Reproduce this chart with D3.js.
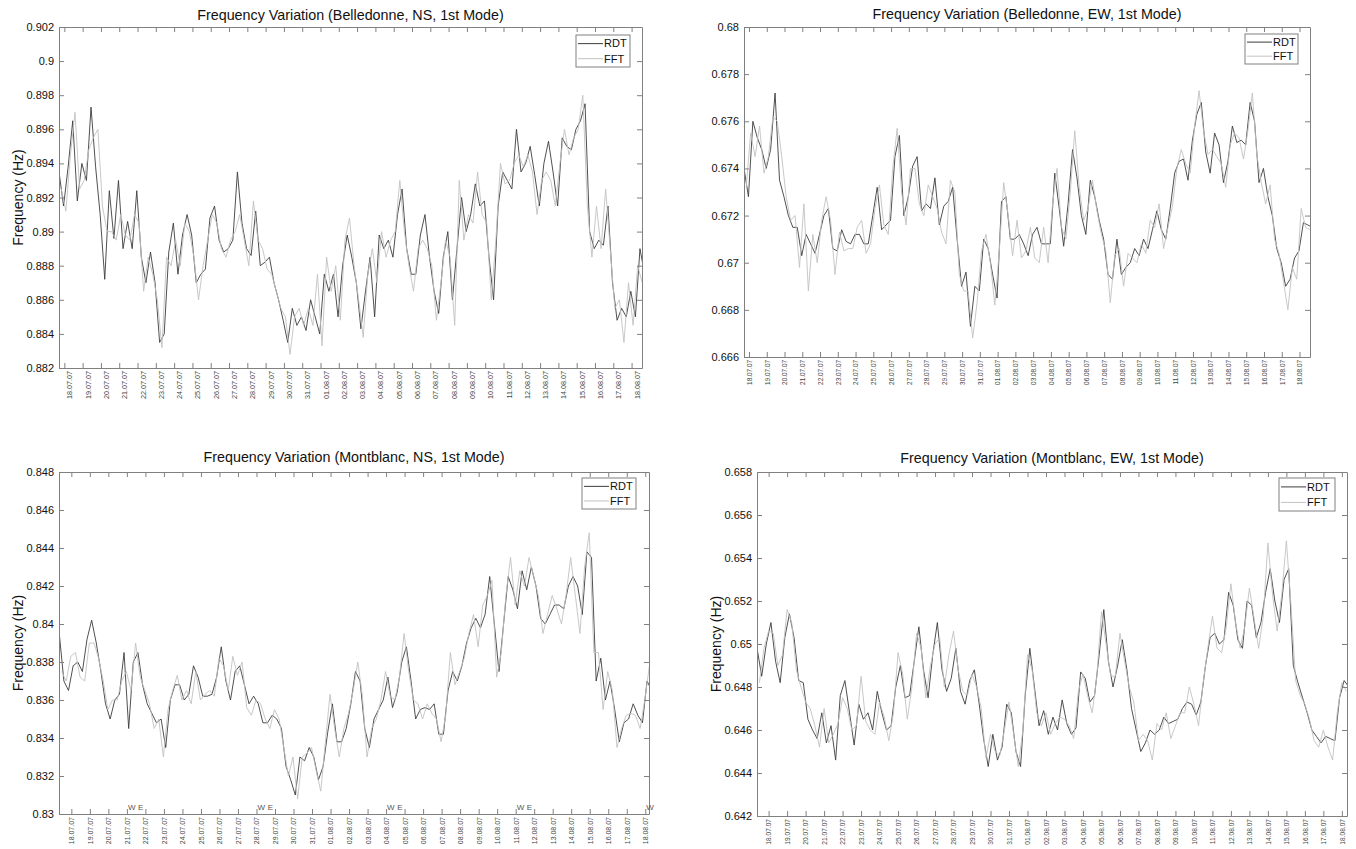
<!DOCTYPE html>
<html>
<head>
<meta charset="utf-8">
<script src="https://cdn.jsdelivr.net/npm/d3@7/dist/d3.min.js"></script>
<style>
  body { margin: 0; background: #fff; }
  svg { display: block; font-family: "Liberation Sans", Arial, sans-serif; }
</style>
</head>
<body>
<svg id="chart" width="1356" height="849"></svg>
<script>
// first-mode frequency in mHz, one sample every 6 h (FFT grid shifted by 3 h)
const belNsRdt = [
  893.5, 891.5, 893.8, 896.5, 891.8, 894.0, 893.0, 897.3,
  893.8, 891.0, 887.2, 892.4, 889.6, 893.0, 889.0, 890.6,
  889.0, 892.4, 888.5, 887.0, 888.8, 887.0, 883.5, 884.0,
  888.8, 890.5, 887.5, 889.8, 891.0, 889.8, 887.0, 887.5,
  887.8, 890.8, 891.5, 889.5, 888.8, 889.0, 889.5, 893.5,
  890.5, 889.0, 888.6, 891.2, 888.0, 888.2, 888.5, 887.0,
  886.0, 884.8, 883.5, 885.5, 884.5, 885.0, 884.2, 886.0,
  885.0, 884.0, 887.5, 886.5, 887.5, 885.0, 888.0, 889.8,
  888.5, 887.0, 884.3, 886.5, 888.5, 885.0, 889.8, 889.0,
  889.5, 888.5, 891.0, 892.5, 889.0, 887.5, 887.5, 889.8,
  891.0, 888.5, 886.5, 885.2, 888.5, 890.0, 886.0, 889.0,
  892.0, 890.0, 891.0, 892.8, 891.5, 891.8, 888.5, 886.0,
  891.5, 893.5, 893.0, 892.5, 896.0, 893.5, 894.0, 895.0,
  893.3, 891.5, 894.0, 895.3, 893.5, 891.5, 895.5, 895.0,
  894.8, 896.0, 896.5, 897.5, 890.0, 889.0, 889.5, 889.2,
  891.5, 887.0, 884.8, 885.5, 885.0, 886.5, 885.0, 889.0,
  887.5
];
const belNsFft = [
  892.5, 891.2, 894.5, 897.0, 892.5, 893.0, 894.8, 895.5,
  896.0, 891.5, 890.0, 890.0, 889.5, 891.0, 889.8, 889.5,
  891.0, 890.5, 886.5, 888.5, 887.5, 886.0, 883.2, 888.5,
  888.0, 889.5, 888.0, 890.5, 890.0, 888.5, 886.0, 888.0,
  889.5, 891.0, 890.5, 889.0, 888.5, 889.5, 890.0, 891.0,
  889.5, 888.0, 891.8, 889.5, 889.0, 887.8, 887.5, 886.5,
  885.5, 885.0, 882.8, 885.0, 885.5, 884.5, 885.5, 884.5,
  887.5, 883.3, 888.5, 886.5, 888.0, 884.8, 889.5, 890.8,
  888.0, 886.0, 883.8, 887.5, 889.0, 887.0, 890.0, 888.5,
  889.5, 890.0, 893.0, 890.0, 888.0, 886.5, 889.0, 889.5,
  889.0, 888.0, 884.8, 887.0, 889.5, 888.5, 884.5, 893.0,
  889.5, 891.0, 890.5, 893.5, 891.0, 890.5, 886.0, 889.5,
  894.0, 892.8, 893.0, 894.0, 894.5, 893.8, 894.5, 893.5,
  891.0, 893.0, 893.5, 893.0, 891.5, 894.0, 896.0, 894.5,
  895.5, 896.0, 898.0, 891.5, 888.5, 891.5, 889.0, 892.5,
  889.0, 885.5, 886.0, 883.5, 887.0, 884.5, 888.0, 887.0
];
const belEwRdt = [
  674.0, 672.8, 676.0, 675.3, 674.8, 674.0, 674.8, 677.2,
  673.5, 672.8, 672.0, 671.5, 671.5, 670.3, 671.2, 670.8,
  670.4, 671.2, 672.0, 672.3, 670.6, 670.5, 671.4, 670.9,
  670.8, 671.2, 671.2, 670.8, 670.8, 672.0, 673.2, 671.4,
  671.6, 671.8, 674.5, 675.4, 672.0, 672.8, 674.1, 674.5,
  672.2, 672.5, 672.3, 673.6, 671.6, 672.4, 672.6, 673.2,
  671.0, 669.0, 669.6, 667.3, 669.0, 668.8, 671.0, 670.6,
  669.5, 668.5, 672.6, 672.8, 671.0, 671.0, 671.2, 670.8,
  670.3, 671.2, 671.5, 670.8, 670.8, 670.8, 673.8, 672.3,
  670.7, 672.5, 674.8, 673.6, 672.0, 671.2, 673.5, 672.8,
  671.8, 671.0, 669.5, 669.3, 671.0, 669.5, 669.8, 670.0,
  670.6, 670.3, 671.0, 670.6, 671.4, 672.2, 671.4, 671.0,
  672.3, 673.8, 674.3, 674.4, 673.5, 675.2, 676.3, 676.8,
  674.7, 673.8, 675.5, 675.0, 673.4, 674.3, 675.8, 675.1,
  675.2, 675.0, 676.8, 676.0, 673.4, 674.0, 672.8, 672.0,
  670.6, 670.0, 669.0, 669.3, 670.2, 670.5, 671.7, 671.6,
  671.5
];
const belEwFft = [
  673.2, 675.5, 674.5, 675.8, 673.8, 674.5, 676.2, 676.0,
  674.5, 672.8, 671.8, 672.0, 669.8, 672.5, 668.8, 671.2,
  670.0, 671.8, 672.8, 671.8, 669.5, 671.3, 670.5, 670.6,
  670.6, 671.5, 671.8, 670.4, 670.8, 672.3, 673.3, 671.6,
  671.2, 674.0, 675.7, 673.0, 671.6, 674.0, 674.0, 672.5,
  672.0, 673.3, 672.8, 672.3, 671.3, 670.8, 673.5, 673.0,
  669.5, 668.8, 668.8, 666.8, 668.3, 670.5, 671.2, 670.0,
  668.2, 670.5, 673.4, 672.0, 670.3, 671.8, 670.2, 670.5,
  671.5, 670.2, 670.0, 671.5, 670.0, 672.5, 674.0, 671.5,
  671.0, 673.0, 675.6, 673.2, 671.8, 672.3, 673.5, 672.2,
  671.2, 670.5, 668.3, 670.3, 670.6, 669.0, 670.4, 670.2,
  670.0, 670.8, 670.4, 671.8, 671.5, 672.5, 670.6, 671.5,
  672.4, 674.0, 674.8, 674.2, 673.8, 675.8, 677.3, 675.6,
  674.6, 674.8, 674.5, 674.2, 673.2, 675.0, 675.5, 675.3,
  674.4, 675.6, 677.2, 674.6, 673.4, 672.5, 673.3, 671.0,
  670.4, 669.2, 668.0, 669.8, 669.3, 672.3, 671.5, 671.4
];
const monNsRdt = [
  839.5, 837.0, 836.5, 837.8, 838.0, 837.5, 839.2, 840.2,
  839.0, 837.5, 835.8, 835.0, 836.0, 836.3, 838.5, 834.5,
  838.0, 838.5, 836.8, 835.8, 835.3, 834.8, 835.0, 833.5,
  836.0, 836.8, 836.8, 836.0, 836.3, 837.8, 837.2, 836.2,
  836.2, 836.3, 837.2, 838.8, 837.0, 836.0, 837.5, 837.8,
  836.8, 835.8, 836.2, 835.8, 834.8, 834.8, 835.2, 835.0,
  834.5, 832.5, 831.8, 831.0, 833.0, 832.8, 833.5, 833.0,
  831.8, 832.5, 834.3, 835.8, 833.8, 833.8, 834.5, 835.8,
  837.5, 837.0, 834.5, 833.5, 835.0, 835.5, 836.0, 837.2,
  835.6, 836.4, 838.0, 838.8, 837.0, 835.0, 835.5, 835.6,
  835.5, 835.8, 834.2, 834.2, 836.5, 837.5, 837.0, 837.8,
  839.0, 839.8, 840.3, 839.8, 840.5, 842.5, 840.0, 837.5,
  840.0, 842.5, 841.8, 840.8, 842.8, 841.8, 843.0, 842.0,
  840.3, 840.0, 840.5, 841.0, 841.0, 840.8, 842.0, 842.5,
  842.0, 840.5, 843.8, 843.5, 837.0, 838.2, 836.0, 837.0,
  835.5, 833.8, 834.8, 835.0, 835.8, 835.2, 834.8, 837.0,
  836.5
];
const monNsFft = [
  837.5, 837.0, 838.3, 838.5, 837.2, 837.0, 839.0, 839.0,
  838.2, 837.0, 835.5, 836.0, 836.0, 837.0, 837.5, 836.5,
  839.0, 837.2, 836.5, 835.8, 834.5, 835.0, 833.0, 835.5,
  836.5, 837.3, 836.0, 836.5, 835.8, 837.5, 836.0, 836.3,
  836.5, 836.2, 838.2, 837.8, 836.5, 838.3, 837.3, 838.0,
  835.6, 835.2, 836.0, 835.8, 835.0, 834.5, 835.5, 835.0,
  833.5, 832.0, 833.0, 830.8, 833.0, 833.2, 833.5, 832.3,
  831.2, 833.8, 836.3, 834.5, 833.0, 834.5, 835.3, 836.5,
  838.0, 836.2, 833.0, 834.5, 835.0, 836.0, 837.5, 836.2,
  836.0, 837.2, 839.5, 837.5, 836.0, 835.8, 835.0, 835.8,
  835.3, 835.0, 833.8, 835.2, 838.5, 836.8, 837.5, 838.2,
  839.5, 840.5, 838.8, 841.0, 841.5, 842.3, 837.2, 838.5,
  841.5, 843.5, 841.0, 842.8, 842.0, 843.5, 842.5, 841.5,
  839.5, 840.5, 841.5, 840.8, 840.0, 841.5, 843.5, 841.5,
  839.5, 843.0, 844.8, 838.5, 838.5, 835.5, 837.5, 836.5,
  833.5, 834.5, 835.2, 835.3, 835.2, 834.5, 836.0, 837.8
];
const monEwRdt = [
  649.8, 648.5, 650.0, 651.0, 649.2, 648.2, 650.3, 651.4,
  650.3, 648.3, 648.2, 646.5, 646.0, 645.6, 646.8, 645.4,
  646.2, 644.6, 647.6, 648.3, 646.8, 645.3, 647.2, 646.5,
  646.8, 646.0, 647.8, 646.8, 646.0, 646.2, 648.0, 649.0,
  647.5, 647.6, 649.2, 650.8, 648.8, 647.5, 649.5, 651.0,
  648.8, 647.8, 648.4, 649.8, 647.8, 647.2, 648.3, 648.8,
  647.3, 645.6, 644.3, 645.8, 644.6, 645.2, 647.2, 646.8,
  645.0, 644.3, 647.6, 649.8, 648.0, 646.2, 646.9, 645.8,
  646.6, 646.0, 647.4, 646.3, 645.8, 646.1, 648.7, 648.4,
  647.3, 647.6, 649.5, 651.6, 649.2, 648.0, 649.0, 650.2,
  648.8, 647.0, 646.0, 645.0, 645.4, 646.0, 645.8, 646.0,
  646.6, 646.3, 646.4, 646.5, 647.0, 647.3, 647.2, 646.7,
  647.3, 649.0, 650.3, 650.5, 650.0, 650.2, 652.4, 651.8,
  650.2, 649.8, 652.0, 651.8, 650.3, 651.0, 652.4, 653.5,
  652.0, 651.0, 653.0, 653.5, 649.0, 648.2, 647.5, 646.8,
  646.0, 645.7, 645.4, 645.7, 645.6, 645.5, 647.5, 648.3,
  648.0
];
const monEwFft = [
  648.2, 649.8, 650.6, 650.5, 649.0, 649.5, 651.6, 651.0,
  648.8, 648.0, 647.3, 647.0, 646.2, 645.2, 647.0, 645.4,
  645.8, 646.3, 647.5, 647.0, 646.0, 646.2, 648.5, 646.4,
  646.0, 645.8, 647.3, 646.6, 645.5, 646.8, 649.6, 648.6,
  646.5, 648.0, 650.5, 649.8, 647.5, 649.0, 650.0, 650.3,
  648.0, 649.5, 650.6, 648.8, 647.8, 647.6, 648.6, 648.0,
  647.0, 644.7, 645.8, 645.0, 644.8, 646.0, 647.3, 645.8,
  644.3, 646.0, 649.5, 648.8, 646.8, 646.2, 646.8, 645.8,
  646.3, 646.6, 646.5, 646.2, 645.6, 647.8, 648.6, 647.6,
  646.8, 648.5, 651.5, 650.0, 648.5, 648.5, 650.5, 649.2,
  648.0, 647.3, 645.5, 645.8, 645.5, 644.6, 646.3, 646.0,
  646.8, 645.6, 646.2, 646.8, 646.8, 648.0, 647.2, 646.2,
  648.2, 649.8, 651.3, 649.8, 649.6, 650.8, 652.8, 651.0,
  649.8, 650.8, 652.6, 651.2, 649.8, 651.3, 654.7, 652.3,
  650.6, 652.3, 654.8, 651.8, 648.3, 647.6, 647.2, 646.5,
  645.5, 645.2, 646.0, 645.2, 644.6, 646.8, 648.2, 647.8
];

// daily ticks 18.07.07 .. 18.08.07, weekend marks (Montblanc NS only)
const tickDays = d3.timeDay.range(new Date(2007, 6, 18), new Date(2007, 7, 19));
const weekendStart = [new Date(2007, 6, 21), new Date(2007, 6, 28), new Date(2007, 7, 4), new Date(2007, 7, 11), new Date(2007, 7, 18)];
const weekendEnd = [new Date(2007, 6, 22), new Date(2007, 6, 29), new Date(2007, 7, 5), new Date(2007, 7, 12)];

const panels = [
    {
        title: "Frequency Variation (Belledonne, NS, 1st Mode)",
        box: { left: 59, top: 27, right: 642, bottom: 368 },
        yDomain: [0.882, 0.902],
        xDomain: [new Date(2007, 6, 17, 17, 0), new Date(2007, 7, 18, 13, 40)],
        start: new Date(2007, 6, 17, 17, 0),
        rdt: belNsRdt, fft: belNsFft,
        yLabel: true, labelSize: 7.2, labelShift: 5, titleGap: 7,
        legend: { x: 576, y: 35, w: 54, h: 32 }
    },
    {
        title: "Frequency Variation (Belledonne, EW, 1st Mode)",
        box: { left: 744, top: 27, right: 1310, bottom: 357 },
        yDomain: [0.666, 0.68],
        xDomain: [new Date(2007, 6, 17, 17, 15), new Date(2007, 7, 18, 14, 10)],
        start: new Date(2007, 6, 17, 17, 15),
        rdt: belEwRdt, fft: belEwFft,
        yLabel: false, labelSize: 6.4, labelShift: 0, titleGap: 8.5,
        legend: { x: 1245, y: 34, w: 53, h: 30 }
    },
    {
        title: "Frequency Variation (Montblanc, NS, 1st Mode)",
        box: { left: 59, top: 472, right: 649, bottom: 814 },
        yDomain: [0.83, 0.848],
        xDomain: [new Date(2007, 6, 17, 8, 0), new Date(2007, 7, 18, 4, 50)],
        start: new Date(2007, 6, 17, 8, 20),
        rdt: monNsRdt, fft: monNsFft,
        yLabel: true, labelSize: 7, labelShift: 0, titleGap: 10, weekends: true,
        legend: { x: 582, y: 478, w: 54, h: 31 }
    },
    {
        title: "Frequency Variation (Montblanc, EW, 1st Mode)",
        box: { left: 757, top: 472, right: 1347, bottom: 816 },
        yDomain: [0.642, 0.658],
        xDomain: [new Date(2007, 6, 17, 8, 55), new Date(2007, 7, 18, 6, 40)],
        start: new Date(2007, 6, 17, 9, 0),
        rdt: monEwRdt, fft: monEwFft,
        yLabel: true, labelSize: 6.6, labelShift: 0, titleGap: 9,
        legend: { x: 1279, y: 478, w: 56, h: 33 }
    }
];

const axisColor = "#808080";
const rdtColor = "#3c3c3c";
const fftColor = "#c2c2c2";
const dateFmt = d3.timeFormat("%d.%m.%y");
const yFmt = d3.format(".3~f");

const svg = d3.select("#chart");

function toPoints(values, start) {
    return values.map((v, i) => ({ date: d3.timeHour.offset(start, 6 * i), value: v / 1000 }));
}

function drawPanel(p, idx) {
    const b = p.box;
    const x = d3.scaleTime().domain(p.xDomain).range([b.left, b.right]);
    const y = d3.scaleLinear().domain(p.yDomain).range([b.bottom, b.top]);
    const g = svg.append("g");

    const clipId = "clip" + idx;
    svg.append("clipPath").attr("id", clipId)
        .append("rect")
        .attr("x", b.left).attr("y", b.top)
        .attr("width", b.right - b.left).attr("height", b.bottom - b.top);

    // series, FFT drawn over RDT
    const line = d3.line().x(d => x(d.date)).y(d => y(d.value));
    const lines = g.append("g").attr("clip-path", `url(#${clipId})`);
    lines.append("path")
        .datum(toPoints(p.rdt, p.start))
        .attr("fill", "none").attr("stroke", rdtColor).attr("stroke-width", 0.9)
        .attr("d", line);
    lines.append("path")
        .datum(toPoints(p.fft, d3.timeHour.offset(p.start, 3)))
        .attr("fill", "none").attr("stroke", fftColor).attr("stroke-width", 0.9)
        .attr("d", line);

    // axes, ticks pointing inwards on all four sides
    const yTicks = y.ticks(7);
    const left = g.append("g").attr("transform", `translate(${b.left},0)`)
        .call(d3.axisLeft(y).tickValues(yTicks).tickSize(-5).tickSizeOuter(0).tickPadding(5).tickFormat(yFmt));
    const right = g.append("g").attr("transform", `translate(${b.right},0)`)
        .call(d3.axisRight(y).tickValues(yTicks).tickSize(-5).tickSizeOuter(0).tickFormat(""));
    const top = g.append("g").attr("transform", `translate(0,${b.top})`)
        .call(d3.axisTop(x).tickValues(tickDays).tickSize(-5).tickSizeOuter(0).tickFormat(""));
    const bottom = g.append("g").attr("transform", `translate(0,${b.bottom})`)
        .call(d3.axisBottom(x).tickValues(tickDays).tickSize(-5).tickSizeOuter(0).tickFormat(dateFmt));

    [left, right, top, bottom].forEach(a => {
        a.select(".domain").attr("stroke", axisColor);
        a.selectAll(".tick line").attr("stroke", axisColor);
    });
    left.selectAll("text")
        .attr("font-size", 11).attr("font-family", "Liberation Sans, Arial, sans-serif").attr("fill", "#111");
    bottom.selectAll("text")
        .attr("font-size", p.labelSize).attr("font-family", "Liberation Sans, Arial, sans-serif").attr("fill", "#444")
        .attr("text-anchor", "end")
        .attr("transform", "rotate(-90)")
        .attr("x", -3).attr("y", p.labelShift).attr("dy", "0.35em");

    // title and y label
    g.append("text")
        .attr("x", (b.left + b.right) / 2).attr("y", b.top - p.titleGap)
        .attr("text-anchor", "middle").attr("font-size", 14.3).attr("fill", "#111")
        .text(p.title);
    if (p.yLabel) {
        g.append("text")
            .attr("transform", `translate(${b.left - 36},${(b.top + b.bottom) / 2}) rotate(-90)`)
            .attr("text-anchor", "middle").attr("font-size", 14).attr("fill", "#111")
            .text("Frequency (Hz)");
    }

    if (p.weekends) {
        const marks = g.append("g").attr("font-size", 8).attr("fill", "#555");
        marks.selectAll("text.w").data(weekendStart).join("text")
            .attr("class", "w")
            .attr("x", d => x(d) + 1).attr("y", b.bottom - 4)
            .text("W");
        marks.selectAll("text.e").data(weekendEnd).join("text")
            .attr("class", "e")
            .attr("x", d => x(d) - 2).attr("y", b.bottom - 4)
            .attr("text-anchor", "end")
            .text("E");
    }

    // legend
    const lg = p.legend;
    const leg = g.append("g").attr("transform", `translate(${lg.x},${lg.y})`);
    leg.append("rect").attr("width", lg.w).attr("height", lg.h)
        .attr("fill", "#fff").attr("stroke", axisColor);
    [["RDT", rdtColor], ["FFT", fftColor]].forEach(([name, color], i) => {
        const ry = lg.h * (i === 0 ? 0.27 : 0.74);
        leg.append("line").attr("x1", 2).attr("x2", 27).attr("y1", ry).attr("y2", ry)
            .attr("stroke", color).attr("stroke-width", 1);
        leg.append("text").attr("x", 28).attr("y", ry).attr("dy", "0.35em")
            .attr("font-size", 11).attr("fill", "#111").text(name);
    });
}

panels.forEach(drawPanel);
</script>
</body>
</html>
